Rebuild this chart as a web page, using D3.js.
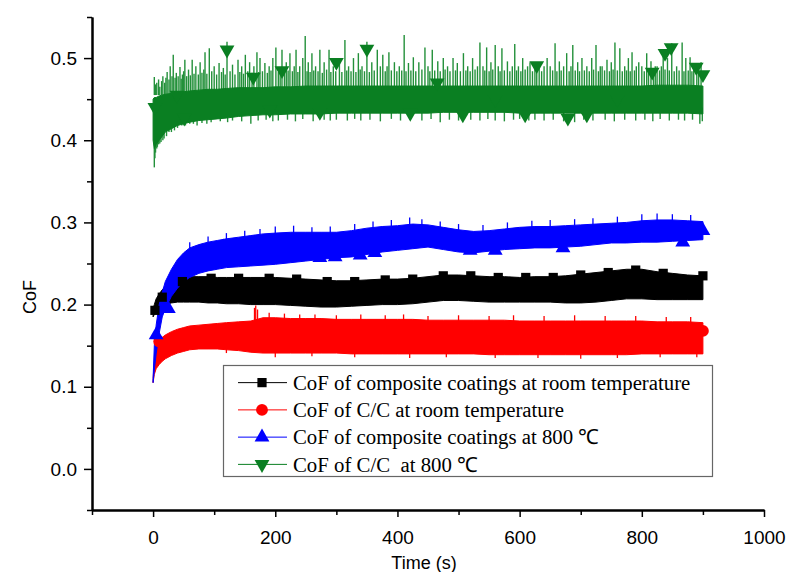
<!DOCTYPE html>
<html>
<head>
<meta charset="utf-8">
<script src="https://cdn.jsdelivr.net/npm/d3@7"></script>
<style>
    body { margin: 0; background: #fff; }
    svg { display: block; }
</style>
</head>
<body>
<div id="chart"></div>
<script>
const envTime = [0, 2, 5, 10, 15, 20, 30, 40, 50, 60, 75, 90, 105, 120, 140, 160, 180, 200,
    225, 250, 275, 300, 325, 350, 375, 400, 425, 450, 475, 500, 525, 550, 575, 600, 625, 650,
    675, 700, 725, 750, 775, 800, 825, 850, 875, 900];

// composite coatings, room temperature (black)
const blackLo = [0.185, 0.188, 0.192, 0.196, 0.199, 0.2, 0.202, 0.203, 0.203, 0.203, 0.203, 0.202, 0.202, 0.201, 0.201, 0.2, 0.2, 0.2,
    0.199, 0.198, 0.197, 0.197, 0.198, 0.199, 0.2, 0.2, 0.201, 0.203, 0.205, 0.205, 0.204, 0.203, 0.203, 0.203, 0.203, 0.203,
    0.202, 0.202, 0.203, 0.205, 0.207, 0.207, 0.206, 0.206, 0.206, 0.206];
const blackHi = [0.195, 0.2, 0.207, 0.213, 0.218, 0.222, 0.228, 0.231, 0.233, 0.234, 0.234, 0.234, 0.233, 0.233, 0.233, 0.233, 0.233, 0.233,
    0.232, 0.231, 0.23, 0.229, 0.229, 0.23, 0.231, 0.231, 0.232, 0.234, 0.236, 0.236, 0.235, 0.234, 0.234, 0.233, 0.234, 0.234,
    0.235, 0.237, 0.239, 0.241, 0.243, 0.243, 0.24, 0.238, 0.236, 0.235];

// C/C, room temperature (red)
const redLo = [0.105, 0.115, 0.122, 0.127, 0.131, 0.134, 0.138, 0.141, 0.143, 0.145, 0.146, 0.146, 0.146, 0.145, 0.144, 0.142, 0.141, 0.141,
    0.141, 0.141, 0.141, 0.141, 0.14, 0.14, 0.14, 0.14, 0.14, 0.14, 0.14, 0.14, 0.14, 0.139, 0.139, 0.139, 0.139, 0.139,
    0.139, 0.139, 0.139, 0.139, 0.139, 0.14, 0.14, 0.14, 0.14, 0.14];
const redHi = [0.11, 0.13, 0.145, 0.155, 0.16, 0.163, 0.167, 0.17, 0.172, 0.174, 0.175, 0.176, 0.177, 0.178, 0.179, 0.18, 0.184, 0.184,
    0.183, 0.183, 0.183, 0.182, 0.182, 0.182, 0.182, 0.182, 0.182, 0.181, 0.181, 0.181, 0.181, 0.181, 0.181, 0.18, 0.18, 0.18,
    0.18, 0.18, 0.18, 0.18, 0.18, 0.18, 0.179, 0.179, 0.179, 0.178];

// composite coatings, 800 °C (blue)
const blueLo = [0.105, 0.12, 0.14, 0.165, 0.185, 0.195, 0.21, 0.22, 0.228, 0.233, 0.238, 0.241, 0.243, 0.245, 0.246, 0.247, 0.248, 0.249,
    0.251, 0.253, 0.255, 0.257, 0.258, 0.261, 0.264, 0.266, 0.268, 0.27, 0.267, 0.264, 0.263, 0.265, 0.267, 0.268, 0.269, 0.269,
    0.27, 0.271, 0.273, 0.275, 0.275, 0.276, 0.276, 0.277, 0.278, 0.279];
const blueHi = [0.11, 0.15, 0.175, 0.2, 0.215, 0.228, 0.243, 0.255, 0.263, 0.269, 0.273, 0.276, 0.278, 0.28, 0.282, 0.284, 0.286, 0.287,
    0.288, 0.288, 0.288, 0.288, 0.29, 0.293, 0.295, 0.296, 0.298, 0.297, 0.294, 0.291, 0.289, 0.29, 0.292, 0.294, 0.295, 0.295,
    0.296, 0.297, 0.298, 0.299, 0.3, 0.302, 0.303, 0.303, 0.302, 0.301];

// C/C, 800 °C (green) dense core
const greenLo = [0.4, 0.39, 0.395, 0.4, 0.405, 0.41, 0.414, 0.418, 0.42, 0.422, 0.424, 0.425, 0.426, 0.427, 0.429, 0.43, 0.431, 0.431,
    0.432, 0.432, 0.432, 0.433, 0.433, 0.433, 0.433, 0.433, 0.433, 0.433, 0.434, 0.434, 0.434, 0.434, 0.434, 0.433, 0.433, 0.433,
    0.433, 0.433, 0.433, 0.433, 0.433, 0.433, 0.433, 0.433, 0.433, 0.432];
const greenHi = [0.45, 0.452, 0.452, 0.454, 0.455, 0.456, 0.457, 0.458, 0.459, 0.46, 0.461, 0.462, 0.462, 0.463, 0.464, 0.464, 0.464, 0.465,
    0.465, 0.466, 0.466, 0.466, 0.466, 0.466, 0.466, 0.466, 0.466, 0.466, 0.466, 0.466, 0.466, 0.466, 0.466, 0.466, 0.466, 0.466,
    0.466, 0.466, 0.466, 0.466, 0.466, 0.466, 0.467, 0.467, 0.467, 0.466];

// green upward spikes [t, top] and downward spikes [t, bottom]
const greenUp = [[2, 0.477], [4, 0.468], [6, 0.47], [9, 0.474], [11, 0.465], [14, 0.472], [16, 0.478], [19, 0.47], [21, 0.476],
    [23, 0.483], [26, 0.474], [28, 0.49], [31, 0.478], [33, 0.504], [36, 0.476], [38, 0.482], [41, 0.478], [44, 0.489],
    [46, 0.475], [48, 0.48], [50, 0.484], [52, 0.498], [55, 0.478], [58, 0.486], [61, 0.479], [64, 0.498], [67, 0.481],
    [70, 0.49], [74, 0.48], [77, 0.495], [80, 0.482], [83, 0.486], [85, 0.507], [88, 0.481], [92, 0.512], [96, 0.484],
    [100, 0.49], [104, 0.48], [108, 0.494], [112, 0.483], [115, 0.488], [118, 0.48], [121, 0.52], [126, 0.484], [130, 0.492],
    [134, 0.48], [139, 0.498], [142, 0.483], [145, 0.49], [148, 0.481], [151, 0.504], [155, 0.484], [158, 0.495], [162, 0.482],
    [165, 0.49], [170, 0.507], [173, 0.483], [175, 0.5], [179, 0.484], [183, 0.494], [187, 0.482], [190, 0.49], [193, 0.485],
    [196, 0.5], [201, 0.513], [205, 0.483], [208, 0.488], [211, 0.51], [215, 0.482], [218, 0.495], [221, 0.485], [224, 0.506],
    [228, 0.484], [231, 0.49], [234, 0.51], [237, 0.483], [240, 0.49], [245, 0.5], [249, 0.527], [252, 0.484], [254, 0.495],
    [257, 0.483], [260, 0.506], [263, 0.485], [266, 0.49], [270, 0.484], [273, 0.51], [277, 0.482], [280, 0.495], [284, 0.486],
    [288, 0.51], [291, 0.483], [295, 0.49], [299, 0.484], [305, 0.497], [309, 0.483], [314, 0.522], [317, 0.485], [320, 0.49],
    [324, 0.484], [328, 0.5], [332, 0.483], [336, 0.506], [339, 0.486], [342, 0.49], [346, 0.484], [350, 0.52], [354, 0.483],
    [358, 0.495], [362, 0.485], [367, 0.51], [372, 0.49], [376, 0.504], [380, 0.484], [383, 0.49], [386, 0.507], [390, 0.485],
    [395, 0.495], [399, 0.484], [403, 0.49], [407, 0.485], [411, 0.528], [414, 0.484], [418, 0.494], [422, 0.485], [426, 0.501],
    [430, 0.484], [435, 0.495], [440, 0.486], [445, 0.513], [450, 0.49], [453, 0.484], [457, 0.51], [461, 0.485], [466, 0.496],
    [470, 0.484], [475, 0.5], [478, 0.486], [482, 0.49], [486, 0.484], [491, 0.5], [495, 0.485], [498, 0.494], [503, 0.484],
    [508, 0.506], [512, 0.485], [515, 0.49], [519, 0.484], [523, 0.5], [527, 0.486], [531, 0.49], [535, 0.519], [540, 0.49],
    [543, 0.485], [546, 0.513], [550, 0.484], [553, 0.495], [556, 0.486], [560, 0.516], [565, 0.49], [568, 0.484], [571, 0.512],
    [575, 0.485], [580, 0.496], [584, 0.484], [588, 0.49], [592, 0.517], [595, 0.485], [598, 0.49], [602, 0.484], [605, 0.5],
    [609, 0.486], [613, 0.49], [617, 0.495], [621, 0.484], [625, 0.49], [628, 0.485], [632, 0.495], [636, 0.484], [640, 0.49],
    [645, 0.5], [650, 0.49], [654, 0.485], [658, 0.518], [661, 0.484], [665, 0.496], [668, 0.485], [672, 0.49], [677, 0.506],
    [681, 0.484], [684, 0.49], [687, 0.516], [691, 0.485], [695, 0.495], [698, 0.484], [702, 0.5], [706, 0.485], [710, 0.49],
    [714, 0.484], [718, 0.5], [721, 0.486], [725, 0.516], [729, 0.484], [732, 0.49], [735, 0.49], [739, 0.485], [743, 0.498],
    [747, 0.484], [750, 0.495], [753, 0.486], [756, 0.519], [760, 0.485], [764, 0.512], [768, 0.484], [772, 0.49], [775, 0.485],
    [778, 0.5], [781, 0.484], [784, 0.507], [788, 0.485], [791, 0.49], [795, 0.495], [800, 0.49], [804, 0.484], [808, 0.506],
    [811, 0.485], [815, 0.496], [819, 0.484], [822, 0.49], [825, 0.49], [829, 0.485], [832, 0.49], [835, 0.51], [838, 0.486],
    [842, 0.5], [845, 0.485], [849, 0.518], [853, 0.484], [857, 0.49], [861, 0.485], [866, 0.519], [869, 0.484], [872, 0.5],
    [876, 0.485], [879, 0.501], [882, 0.484], [885, 0.49], [890, 0.494], [893, 0.484], [897, 0.495]];
const greenDown = [[2, 0.367], [3, 0.378], [4, 0.385], [6, 0.39], [7, 0.392], [9, 0.395], [11, 0.396], [13, 0.398], [16, 0.4],
    [18, 0.402], [22, 0.405], [26, 0.41], [30, 0.41], [35, 0.412], [40, 0.415], [47, 0.418], [53, 0.418], [60, 0.42], [66, 0.42],
    [72, 0.418], [80, 0.421], [88, 0.42], [95, 0.422], [110, 0.423], [122, 0.422], [130, 0.424], [145, 0.423], [160, 0.42],
    [172, 0.424], [185, 0.425], [196, 0.423], [205, 0.424], [220, 0.425], [233, 0.423], [245, 0.426], [262, 0.423], [280, 0.425],
    [290, 0.424], [300, 0.425], [318, 0.424], [330, 0.426], [340, 0.424], [355, 0.425], [372, 0.423], [390, 0.426], [405, 0.424],
    [420, 0.425], [440, 0.424], [455, 0.426], [470, 0.422], [485, 0.425], [500, 0.424], [520, 0.425], [535, 0.424], [548, 0.426],
    [560, 0.424], [575, 0.423], [590, 0.425], [600, 0.426], [615, 0.424], [625, 0.425], [640, 0.424], [655, 0.425], [672, 0.423],
    [690, 0.422], [705, 0.425], [720, 0.424], [740, 0.425], [755, 0.423], [772, 0.425], [790, 0.424], [805, 0.425], [818, 0.423],
    [830, 0.426], [845, 0.424], [860, 0.425], [870, 0.424], [883, 0.425], [895, 0.42], [899, 0.423]];

// ragged band edges [t, from, to]
const redSpikes = [[166, 0.178, 0.196], [168, 0.178, 0.199], [171, 0.178, 0.194], [190, 0.18, 0.19], [215, 0.18, 0.189],
    [240, 0.18, 0.188], [265, 0.18, 0.188], [300, 0.18, 0.187], [340, 0.18, 0.188], [380, 0.18, 0.187], [410, 0.18, 0.188],
    [450, 0.179, 0.186], [500, 0.179, 0.187], [550, 0.179, 0.186], [590, 0.178, 0.187], [640, 0.178, 0.186], [690, 0.178, 0.187],
    [740, 0.178, 0.186], [790, 0.178, 0.186], [840, 0.177, 0.185], [880, 0.177, 0.185],
    [120, 0.146, 0.141], [200, 0.142, 0.136], [260, 0.142, 0.137], [330, 0.141, 0.136], [420, 0.141, 0.135], [480, 0.141, 0.136],
    [560, 0.14, 0.135], [630, 0.14, 0.135], [700, 0.14, 0.134], [760, 0.14, 0.135], [830, 0.141, 0.136], [890, 0.141, 0.136]];
const blueSpikes = [[60, 0.268, 0.276], [90, 0.275, 0.283], [120, 0.279, 0.287], [150, 0.282, 0.29], [175, 0.285, 0.292],
    [200, 0.286, 0.295], [230, 0.287, 0.296], [260, 0.287, 0.294], [290, 0.287, 0.295], [330, 0.29, 0.298], [360, 0.293, 0.301],
    [390, 0.295, 0.303], [420, 0.297, 0.306], [440, 0.296, 0.304], [470, 0.294, 0.301], [500, 0.29, 0.298], [540, 0.289, 0.297],
    [580, 0.292, 0.3], [620, 0.294, 0.302], [650, 0.294, 0.303], [690, 0.296, 0.304], [720, 0.297, 0.305], [760, 0.299, 0.307],
    [800, 0.301, 0.31], [825, 0.302, 0.311], [850, 0.302, 0.31], [880, 0.301, 0.309]];

// marker positions [t, CoF]
const blackMarkers = [[3, 0.193], [15, 0.209], [48, 0.228], [95, 0.232], [140, 0.232], [190, 0.232], [235, 0.231], [285, 0.228],
    [330, 0.228], [380, 0.23], [425, 0.231], [475, 0.235], [520, 0.235], [565, 0.233], [610, 0.233], [655, 0.233], [700, 0.236],
    [745, 0.239], [790, 0.242], [835, 0.238], [900, 0.235]];
const redMarkers = [[10, 0.155], [55, 0.16], [100, 0.16], [145, 0.162], [190, 0.165], [235, 0.16], [280, 0.162], [325, 0.16],
    [370, 0.162], [415, 0.16], [460, 0.162], [505, 0.16], [550, 0.161], [595, 0.162], [640, 0.16], [685, 0.161], [730, 0.16],
    [775, 0.162], [820, 0.16], [865, 0.161], [900, 0.168]];
const blueMarkers = [[5, 0.163], [25, 0.195], [70, 0.26], [115, 0.27], [160, 0.27], [205, 0.265], [250, 0.262], [273, 0.257],
    [298, 0.258], [339, 0.26], [363, 0.263], [410, 0.275], [455, 0.28], [519, 0.266], [560, 0.266], [610, 0.28], [671, 0.269],
    [720, 0.285], [770, 0.29], [820, 0.29], [867, 0.276], [900, 0.29]];
const greenMarkers = [[3, 0.44], [39, 0.455], [51, 0.427], [121, 0.51], [164, 0.477], [191, 0.437], [211, 0.485], [273, 0.434],
    [300, 0.495], [350, 0.511], [421, 0.433], [465, 0.47], [507, 0.431], [560, 0.45], [609, 0.431], [628, 0.491], [679, 0.427],
    [710, 0.431], [760, 0.45], [817, 0.483], [838, 0.506], [848, 0.513], [889, 0.489], [900, 0.48]];

const legendLabels = [
    'CoF of composite coatings at room temperature',
    'CoF of C/C at room temperature',
    'CoF of composite coatings at 800 \u2103',
    'CoF of C/C  at 800 \u2103'
];

const xMajor = [0, 200, 400, 600, 800, 1000];
const xMinor = [-100, 100, 300, 500, 700, 900];
const yMajor = [0, 0.1, 0.2, 0.3, 0.4, 0.5];
const yMinor = [-0.05, 0.05, 0.15, 0.25, 0.35, 0.45, 0.55];

const width = 789, height = 572;
const svg = d3.select('#chart').append('svg')
    .attr('width', width)
    .attr('height', height)
    .style('font-family', '"Liberation Sans", Arial, sans-serif');

const x = d3.scaleLinear().domain([-100, 1000]).range([92, 764]);
const y = d3.scaleLinear().domain([-0.05, 0.55]).range([510, 17]);

function bandArea(lo, hi) {
    return d3.area()
        .x((d, i) => x(envTime[i]))
        .y0((d, i) => y(lo[i]))
        .y1((d, i) => y(hi[i]))(envTime);
}

function drawSpikes(g, data, color, width) {
    g.append('g').selectAll('line')
        .data(data)
        .join('line')
        .attr('x1', d => x(d[0])).attr('x2', d => x(d[0]))
        .attr('y1', d => y(d[1])).attr('y2', d => y(d[2]))
        .attr('stroke', color).attr('stroke-width', width);
}

const series = [
    { lo: blackLo, hi: blackHi, color: '#000000', markers: blackMarkers, symbol: d3.symbolSquare, size: 85, rot: 0 },
    { lo: redLo, hi: redHi, color: '#ff0000', markers: redMarkers, symbol: d3.symbolCircle, size: 110, rot: 0 },
    { lo: blueLo, hi: blueHi, color: '#0000ff', markers: blueMarkers, symbol: d3.symbolTriangle, size: 95, rot: 0 },
    { lo: greenLo, hi: greenHi, color: '#0a7f22', markers: greenMarkers, symbol: d3.symbolTriangle, size: 95, rot: 180 }
];

const plot = svg.append('g');

// green spikes sit behind the dense core
drawSpikes(plot, greenUp.map(d => [d[0], 0.455, d[1]]), '#23903a', 1.4);
drawSpikes(plot, greenDown.map(d => [d[0], 0.44, d[1]]), '#23903a', 1.4);

// bands
series.forEach(s => {
    plot.append('path')
        .attr('d', bandArea(s.lo, s.hi))
        .attr('fill', s.color)
        .attr('stroke', s.color)
        .attr('stroke-width', 1);
});

drawSpikes(plot, redSpikes, '#ff0000', 1.3);
drawSpikes(plot, blueSpikes, '#0000ff', 1.3);

// markers
series.forEach(s => {
    plot.append('g').selectAll('path')
        .data(s.markers)
        .join('path')
        .attr('d', d3.symbol().type(s.symbol).size(s.size))
        .attr('transform', d => `translate(${x(d[0])},${y(d[1])}) rotate(${s.rot})`)
        .attr('fill', s.color);
});

// axes
const axisY = svg.append('g').attr('transform', 'translate(92,0)');
axisY.call(d3.axisLeft(y).tickValues(yMajor).tickFormat(d3.format('.1f')).tickSize(8).tickPadding(7).tickSizeOuter(0));
axisY.append('g').call(d3.axisLeft(y).tickValues(yMinor).tickFormat('').tickSize(5).tickSizeOuter(0));

const axisX = svg.append('g').attr('transform', 'translate(0,510)');
axisX.call(d3.axisBottom(x).tickValues(xMajor).tickFormat(d3.format('d')).tickSize(7).tickPadding(14).tickSizeOuter(0));
axisX.append('g').call(d3.axisBottom(x).tickValues(xMinor).tickFormat('').tickSize(5).tickSizeOuter(0));

svg.selectAll('.domain').attr('stroke', '#000').attr('stroke-width', 2);
svg.selectAll('.tick line').attr('stroke', '#000').attr('stroke-width', 1.5);
svg.selectAll('.tick text')
    .attr('fill', '#000')
    .style('font-size', '19px')
    .style('font-family', '"Liberation Sans", Arial, sans-serif');

svg.append('text')
    .attr('x', 424)
    .attr('y', 569)
    .attr('text-anchor', 'middle')
    .style('font-size', '18px')
    .text('Time (s)');

svg.append('text')
    .attr('transform', 'translate(36,297) rotate(-90)')
    .attr('text-anchor', 'middle')
    .style('font-size', '18px')
    .text('CoF');

// legend
const legend = svg.append('g');
legend.append('rect')
    .attr('x', 223.5).attr('y', 365.5)
    .attr('width', 489).attr('height', 111)
    .attr('fill', '#fff')
    .attr('stroke', '#666')
    .attr('stroke-width', 1.2);

const rowY = d3.scaleBand().domain(d3.range(legendLabels.length)).range([370, 479]);
legendLabels.forEach((label, i) => {
    const s = series[i];
    const cy = rowY(i) + rowY.bandwidth() / 2 - 1;
    legend.append('line')
        .attr('x1', 238).attr('x2', 287)
        .attr('y1', cy).attr('y2', cy)
        .attr('stroke', s.color).attr('stroke-width', 1);
    legend.append('path')
        .attr('d', d3.symbol().type(s.symbol).size(s.size))
        .attr('transform', `translate(262,${cy}) rotate(${s.rot})`)
        .attr('fill', s.color);
    legend.append('text')
        .attr('x', 293)
        .attr('y', cy)
        .attr('dy', '0.35em')
        .style('font-family', '"Liberation Serif", "Times New Roman", serif')
        .style('font-size', '20.8px')
        .style('white-space', 'pre')
        .text(label);
});
</script>
</body>
</html>
